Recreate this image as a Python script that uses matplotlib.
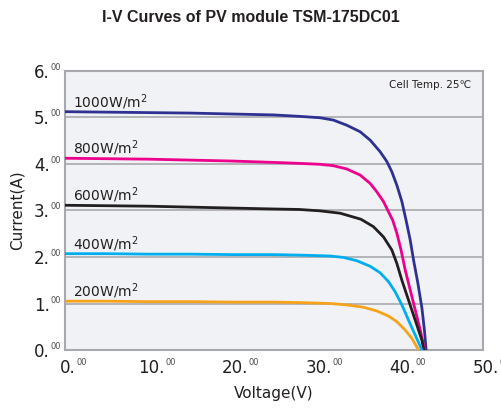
import matplotlib
matplotlib.use("Agg")
import matplotlib.pyplot as plt
import matplotlib.transforms as mtransforms

# irradiance labels
labels = ["1000W/m$^2$", "800W/m$^2$", "600W/m$^2$", "400W/m$^2$", "200W/m$^2$"]
colors = ["#2e3192", "#ec008c", "#231f20", "#00aeef", "#f7a21b"]

# I-V points
v1000 = [0, 5, 10, 15, 20, 25, 28, 30.5, 32.1, 33.7, 35.3, 36.5, 37.7, 38.5, 39.1, 39.7,
         40.3, 40.8, 41.3, 41.7, 42.2, 42.7, 43.0, 43.2]
i1000 = [5.12, 5.11, 5.10, 5.09, 5.07, 5.05, 5.02, 4.99, 4.94, 4.83, 4.69, 4.51, 4.26, 4.05, 3.83, 3.54,
         3.19, 2.79, 2.36, 1.93, 1.45, 0.9, 0.42, 0]
v800 = [0, 5, 10, 15, 20, 25, 28, 30.5, 32.1, 33.7, 35.3, 36.5, 37.3, 38.1, 38.7, 39.2,
        39.7, 40.2, 40.7, 41.3, 41.9, 42.5, 43.0]
i800 = [4.12, 4.11, 4.10, 4.08, 4.06, 4.03, 4.01, 3.99, 3.96, 3.89, 3.76, 3.58, 3.40, 3.19, 2.97, 2.79,
        2.51, 2.15, 1.72, 1.29, 0.86, 0.43, 0]
v600 = [0, 5, 10, 15, 20, 25, 28, 30.5, 32.9, 35.4, 36.9, 38.1, 39.1, 39.7, 40.3, 41.1, 41.9, 42.7, 42.9]
i600 = [3.11, 3.10, 3.09, 3.07, 3.05, 3.03, 3.02, 2.99, 2.94, 2.81, 2.65, 2.43, 2.15, 1.86, 1.50, 1.07,
        0.64, 0.21, 0]
v400 = [0, 5, 10, 15, 20, 25, 28, 31.7, 33.3, 34.9, 36.5, 37.7, 38.7, 39.5, 40.3, 41.1, 41.9, 42.7]
i400 = [2.07, 2.07, 2.06, 2.06, 2.05, 2.05, 2.04, 2.02, 1.99, 1.92, 1.80, 1.66, 1.47, 1.25, 0.97, 0.64,
        0.32, 0]
v200 = [0, 5, 10, 15, 20, 25, 28, 31.7, 33.7, 35.7, 37.3, 38.7, 39.7, 40.7, 41.5, 42.3]
i200 = [1.05, 1.05, 1.04, 1.04, 1.03, 1.03, 1.02, 1.0, 0.97, 0.92, 0.84, 0.73, 0.61, 0.43, 0.25, 0]

voltages = [v1000, v800, v600, v400, v200]
currents = [i1000, i800, i600, i400, i200]

xticks = [0, 10, 20, 30, 40, 50]
yticks = [0, 1, 2, 3, 4, 5, 6]

fig = plt.figure(figsize=(5.01, 4.08), dpi=100)
ax = fig.add_axes([0.1297, 0.142, 0.8343, 0.6847])
ax.set_facecolor("#f1f2f5")

for y in yticks[1:-1]:
    ax.axhline(y, color="#a7a9ac", lw=1.2, zorder=1)

for v, i, c, lab in zip(voltages, currents, colors, labels):
    ax.plot(v, i, color=c, lw=2.0, zorder=3, solid_joinstyle="round")
    ax.text(0.95, i[0] + 0.1, lab, fontsize=10, color="#231f20",
            ha="left", va="baseline", zorder=4)

ax.set_xlim(0, 50)
ax.set_ylim(0, 6)
ax.set_xticks(xticks)
ax.set_yticks(yticks)
ax.set_xticklabels(["%d." % t for t in xticks], fontsize=12, color="#231f20")
ax.set_yticklabels(["%d." % t for t in yticks], fontsize=12, color="#231f20")
ax.tick_params(length=0)
ax.tick_params(axis="x", pad=6.5)
ax.tick_params(axis="y", pad=11)

# shift x tick labels right a bit, like the datasheet
offset = mtransforms.ScaledTranslation(3 / 100, 0, fig.dpi_scale_trans)
for lbl in ax.get_xticklabels():
    lbl.set_transform(lbl.get_transform() + offset)

for s in ax.spines.values():
    s.set_color("#a7a9ac")
    s.set_linewidth(1.5)

ax.set_xlabel("Voltage(V)", fontsize=11, color="#231f20")
ax.xaxis.set_label_coords(0.5, -0.128)
ax.set_ylabel("Current(A)", fontsize=11, color="#231f20")
ax.yaxis.set_label_coords(-0.096, 0.5)

ax.text(0.972, 0.965, "Cell Temp. 25\u2103", transform=ax.transAxes, fontsize=7.5,
        ha="right", va="top", color="#231f20", family=["DejaVu Sans", "Noto Sans CJK SC"])

fig.text(0.5, 1 - 17 / 408, "I-V Curves of PV module TSM-175DC01", ha="center", va="center",
         fontsize=11.5, fontweight="bold", family="Liberation Sans", color="#231f20")

# small superscript "00" after every tick label
fig.canvas.draw()
renderer = fig.canvas.get_renderer()
for lbl in ax.get_xticklabels() + ax.get_yticklabels():
    if not lbl.get_text():
        continue
    bb = lbl.get_window_extent(renderer)
    fig.text(bb.x1 + 0.5, bb.y1 + 1.0, "00", transform=mtransforms.IdentityTransform(),
             fontsize=6, color="#4d4d4f", ha="left", va="top")

fig.savefig("out.png", dpi=100)
